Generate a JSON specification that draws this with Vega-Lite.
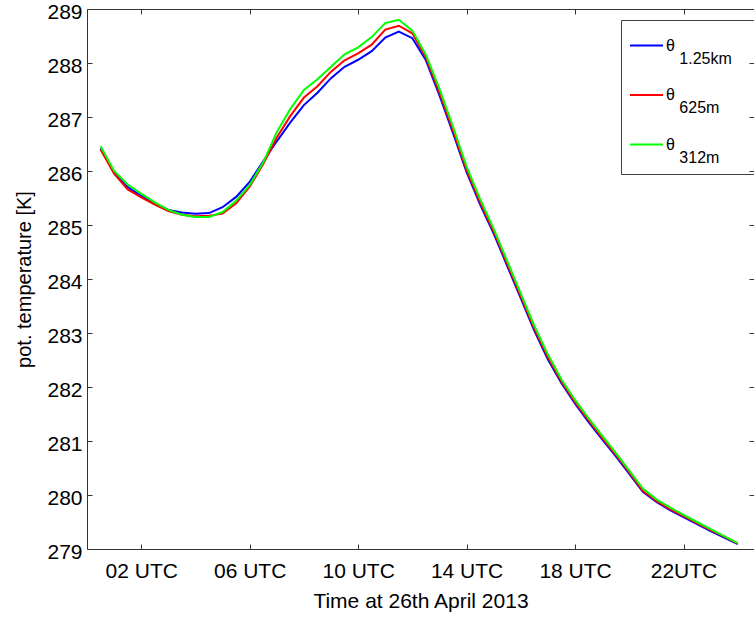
{
 "$schema": "https://vega.github.io/schema/vega-lite/v6.json",
 "width": 667, "height": 540,
 "autosize": {"type": "none"},
 "padding": {"left": 87, "top": 9, "right": 0, "bottom": 70},
 "background": "white",
 "config": {
  "view": {"stroke": null},
  "font": "Liberation Sans",
  "style": {"guide-label": {"lineHeight": 13}},
  "axis": {"domainColor": "#333333", "tickColor": "#333333", "labelColor": "#000000", "titleColor": "#000000", "labelFontSize": 21, "titleFontSize": 21, "titleFontWeight": "normal", "grid": false, "tickSize": -5, "domainWidth": 1, "tickWidth": 1}
 },
 "data": {"values": [
  {"t":0.5,"v":286.42,"s":"b"},{"t":1.0,"v":285.97,"s":"b"},{"t":1.5,"v":285.70,"s":"b"},{"t":2.0,"v":285.54,"s":"b"},
  {"t":2.5,"v":285.40,"s":"b"},{"t":3.0,"v":285.28,"s":"b"},{"t":3.5,"v":285.23,"s":"b"},{"t":4.0,"v":285.21,"s":"b"},
  {"t":4.5,"v":285.22,"s":"b"},{"t":5.0,"v":285.33,"s":"b"},{"t":5.5,"v":285.52,"s":"b"},{"t":6.0,"v":285.80,"s":"b"},
  {"t":6.5,"v":286.18,"s":"b"},{"t":7.0,"v":286.55,"s":"b"},{"t":7.5,"v":286.90,"s":"b"},{"t":8.0,"v":287.22,"s":"b"},
  {"t":8.5,"v":287.45,"s":"b"},{"t":9.0,"v":287.72,"s":"b"},{"t":9.5,"v":287.93,"s":"b"},{"t":10.0,"v":288.06,"s":"b"},
  {"t":10.5,"v":288.22,"s":"b"},{"t":11.0,"v":288.47,"s":"b"},{"t":11.5,"v":288.58,"s":"b"},{"t":12.0,"v":288.46,"s":"b"},
  {"t":12.5,"v":288.05,"s":"b"},{"t":13.0,"v":287.40,"s":"b"},{"t":13.5,"v":286.70,"s":"b"},{"t":14.0,"v":285.98,"s":"b"},
  {"t":14.5,"v":285.38,"s":"b"},{"t":15.0,"v":284.84,"s":"b"},{"t":15.5,"v":284.24,"s":"b"},{"t":16.0,"v":283.64,"s":"b"},
  {"t":16.5,"v":283.04,"s":"b"},{"t":17.0,"v":282.51,"s":"b"},{"t":17.5,"v":282.07,"s":"b"},{"t":18.0,"v":281.69,"s":"b"},
  {"t":18.5,"v":281.35,"s":"b"},{"t":19.0,"v":281.03,"s":"b"},{"t":19.5,"v":280.72,"s":"b"},{"t":20.0,"v":280.39,"s":"b"},
  {"t":20.5,"v":280.06,"s":"b"},{"t":21.0,"v":279.87,"s":"b"},{"t":21.5,"v":279.72,"s":"b"},{"t":22.0,"v":279.59,"s":"b"},
  {"t":22.5,"v":279.46,"s":"b"},{"t":23.0,"v":279.33,"s":"b"},{"t":23.5,"v":279.21,"s":"b"},{"t":24.0,"v":279.09,"s":"b"},

  {"t":0.5,"v":286.40,"s":"r"},{"t":1.0,"v":285.95,"s":"r"},{"t":1.5,"v":285.66,"s":"r"},{"t":2.0,"v":285.51,"s":"r"},
  {"t":2.5,"v":285.38,"s":"r"},{"t":3.0,"v":285.26,"s":"r"},{"t":3.5,"v":285.19,"s":"r"},{"t":4.0,"v":285.16,"s":"r"},
  {"t":4.5,"v":285.17,"s":"r"},{"t":5.0,"v":285.21,"s":"r"},{"t":5.5,"v":285.40,"s":"r"},{"t":6.0,"v":285.71,"s":"r"},
  {"t":6.5,"v":286.13,"s":"r"},{"t":7.0,"v":286.62,"s":"r"},{"t":7.5,"v":287.02,"s":"r"},{"t":8.0,"v":287.36,"s":"r"},
  {"t":8.5,"v":287.57,"s":"r"},{"t":9.0,"v":287.84,"s":"r"},{"t":9.5,"v":288.05,"s":"r"},{"t":10.0,"v":288.18,"s":"r"},
  {"t":10.5,"v":288.34,"s":"r"},{"t":11.0,"v":288.62,"s":"r"},{"t":11.5,"v":288.69,"s":"r"},{"t":12.0,"v":288.55,"s":"r"},
  {"t":12.5,"v":288.10,"s":"r"},{"t":13.0,"v":287.45,"s":"r"},{"t":13.5,"v":286.75,"s":"r"},{"t":14.0,"v":286.02,"s":"r"},
  {"t":14.5,"v":285.42,"s":"r"},{"t":15.0,"v":284.88,"s":"r"},{"t":15.5,"v":284.28,"s":"r"},{"t":16.0,"v":283.68,"s":"r"},
  {"t":16.5,"v":283.08,"s":"r"},{"t":17.0,"v":282.55,"s":"r"},{"t":17.5,"v":282.10,"s":"r"},{"t":18.0,"v":281.72,"s":"r"},
  {"t":18.5,"v":281.38,"s":"r"},{"t":19.0,"v":281.06,"s":"r"},{"t":19.5,"v":280.75,"s":"r"},{"t":20.0,"v":280.42,"s":"r"},
  {"t":20.5,"v":280.08,"s":"r"},{"t":21.0,"v":279.89,"s":"r"},{"t":21.5,"v":279.74,"s":"r"},{"t":22.0,"v":279.61,"s":"r"},
  {"t":22.5,"v":279.48,"s":"r"},{"t":23.0,"v":279.35,"s":"r"},{"t":23.5,"v":279.23,"s":"r"},{"t":24.0,"v":279.10,"s":"r"},

  {"t":0.5,"v":286.46,"s":"g"},{"t":1.0,"v":286.00,"s":"g"},{"t":1.5,"v":285.75,"s":"g"},{"t":2.0,"v":285.58,"s":"g"},
  {"t":2.5,"v":285.42,"s":"g"},{"t":3.0,"v":285.28,"s":"g"},{"t":3.5,"v":285.19,"s":"g"},{"t":4.0,"v":285.15,"s":"g"},
  {"t":4.5,"v":285.15,"s":"g"},{"t":5.0,"v":285.24,"s":"g"},{"t":5.5,"v":285.45,"s":"g"},{"t":6.0,"v":285.74,"s":"g"},
  {"t":6.5,"v":286.16,"s":"g"},{"t":7.0,"v":286.72,"s":"g"},{"t":7.5,"v":287.15,"s":"g"},{"t":8.0,"v":287.50,"s":"g"},
  {"t":8.5,"v":287.70,"s":"g"},{"t":9.0,"v":287.93,"s":"g"},{"t":9.5,"v":288.16,"s":"g"},{"t":10.0,"v":288.29,"s":"g"},
  {"t":10.5,"v":288.48,"s":"g"},{"t":11.0,"v":288.74,"s":"g"},{"t":11.5,"v":288.80,"s":"g"},{"t":12.0,"v":288.60,"s":"g"},
  {"t":12.5,"v":288.15,"s":"g"},{"t":13.0,"v":287.52,"s":"g"},{"t":13.5,"v":286.82,"s":"g"},{"t":14.0,"v":286.08,"s":"g"},
  {"t":14.5,"v":285.48,"s":"g"},{"t":15.0,"v":284.93,"s":"g"},{"t":15.5,"v":284.33,"s":"g"},{"t":16.0,"v":283.73,"s":"g"},
  {"t":16.5,"v":283.13,"s":"g"},{"t":17.0,"v":282.60,"s":"g"},{"t":17.5,"v":282.14,"s":"g"},{"t":18.0,"v":281.76,"s":"g"},
  {"t":18.5,"v":281.42,"s":"g"},{"t":19.0,"v":281.10,"s":"g"},{"t":19.5,"v":280.78,"s":"g"},{"t":20.0,"v":280.45,"s":"g"},
  {"t":20.5,"v":280.12,"s":"g"},{"t":21.0,"v":279.92,"s":"g"},{"t":21.5,"v":279.77,"s":"g"},{"t":22.0,"v":279.63,"s":"g"},
  {"t":22.5,"v":279.50,"s":"g"},{"t":23.0,"v":279.37,"s":"g"},{"t":23.5,"v":279.24,"s":"g"},{"t":24.0,"v":279.11,"s":"g"}
 ]},
 "layer": [
  {
   "mark": {"type": "line", "strokeWidth": 2},
   "encoding": {
    "x": {"field": "t", "type": "quantitative",
     "scale": {"domain": [0, 24.6], "nice": false, "zero": false},
     "axis": {"orient": "bottom", "values": [2, 6, 10, 14, 18, 22],
      "labelExpr": "datum.value == 22 ? '22UTC' : (datum.value < 10 ? '0' : '') + datum.value + ' UTC'",
      "title": "Time at 26th April 2013", "labelPadding": 16, "titlePadding": 9}},
    "y": {"field": "v", "type": "quantitative",
     "scale": {"domain": [279, 289], "nice": false, "zero": false},
     "axis": {"values": [279, 280, 281, 282, 283, 284, 285, 286, 287, 288, 289], "format": "d",
      "title": "pot. temperature [K]", "titleFontSize": 20, "labelPadding": 10, "labelOffset": 3, "titlePadding": 12}},
    "color": {"field": "s", "type": "nominal",
     "scale": {"domain": ["b", "r", "g"], "range": ["#0000ff", "#ff0000", "#00ff00"]},
     "legend": {"title": null, "orient": "none", "legendX": 534, "legendY": 11, "direction": "vertical",
      "symbolType": "stroke", "symbolSize": 1089, "symbolStrokeWidth": 2, "rowPadding": 10.5, "padding": 8,
      "labelFontSize": 16, "labelOffset": 2, "labelColor": "#000000", "labelFont": "Liberation Sans", "labelBaseline": "middle",
      "labelExpr": "['θ', '\u200b\u00a0\u00a0\u00a0' + (datum.label == 'b' ? '1.25km' : datum.label == 'r' ? '625m' : '312m') + '\u00a0\u00a0\u00a0\u200b']",
      "strokeColor": "#404040"}}
   }
  },
  {
   "mark": {"type": "line", "strokeOpacity": 0},
   "encoding": {
    "x": {"field": "t", "type": "quantitative",
     "axis": {"orient": "top", "values": [2, 6, 10, 14, 18, 22], "labels": false, "title": null}},
    "y": {"field": "v", "type": "quantitative",
     "axis": {"orient": "right", "values": [279, 280, 281, 282, 283, 284, 285, 286, 287, 288, 289], "labels": false, "title": null}},
    "detail": {"field": "s"}
   }
  }
 ],
 "resolve": {"axis": {"x": "independent", "y": "independent"}}
}
